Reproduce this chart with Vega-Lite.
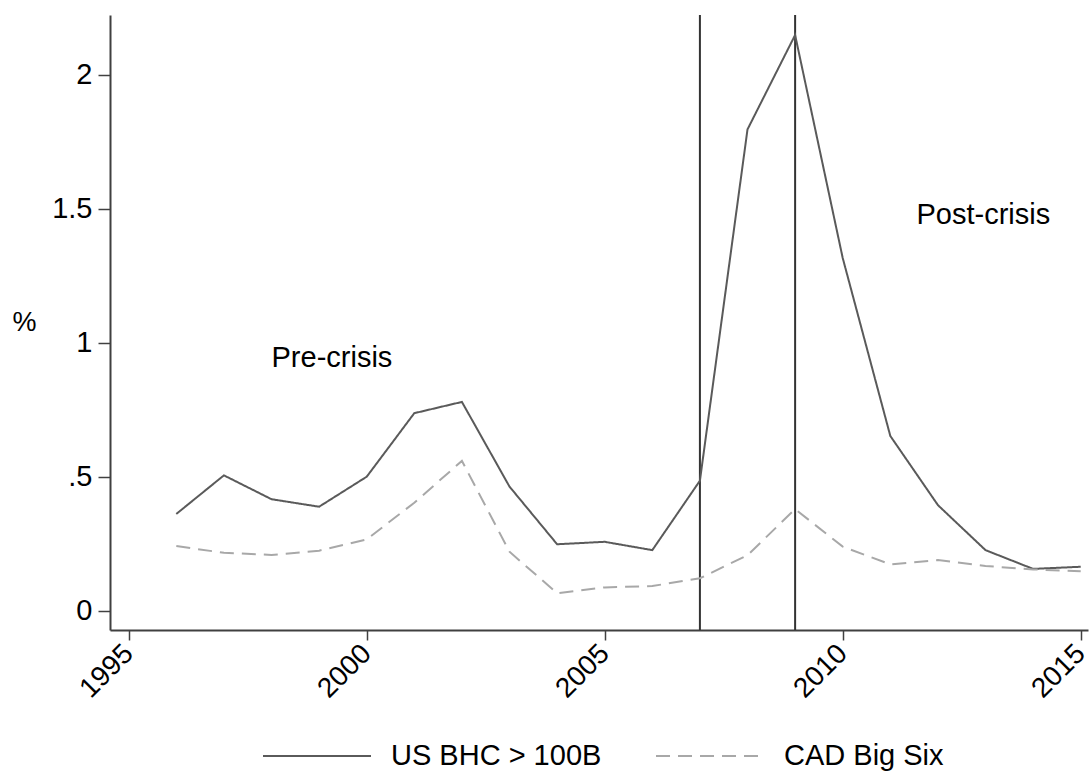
{
  "$schema": "https://vega.github.io/schema/vega-lite/v6.json",
  "width": 978,
  "height": 615,
  "autosize": {"type": "none"},
  "padding": {"left": 110, "top": 15, "right": 2, "bottom": 143},
  "background": "white",
  "config": {
    "view": {"stroke": null},
    "font": "Liberation Sans",
    "axis": {
      "grid": false,
      "domainColor": "#404040",
      "domainWidth": 2,
      "tickColor": "#404040",
      "tickWidth": 1.5,
      "labelFont": "Liberation Sans",
      "labelFontSize": 29,
      "labelColor": "black",
      "titleFont": "Liberation Sans",
      "titleFontWeight": "normal",
      "titleColor": "black"
    },
    "legend": {
      "labelFont": "Liberation Sans",
      "labelFontSize": 29,
      "labelColor": "black"
    }
  },
  "datasets": {
    "series": [
      {"year": 1996, "series": "US BHC > 100B", "value": 0.361},
      {"year": 1997, "series": "US BHC > 100B", "value": 0.505},
      {"year": 1998, "series": "US BHC > 100B", "value": 0.416},
      {"year": 1999, "series": "US BHC > 100B", "value": 0.388},
      {"year": 2000, "series": "US BHC > 100B", "value": 0.500},
      {"year": 2001, "series": "US BHC > 100B", "value": 0.737},
      {"year": 2002, "series": "US BHC > 100B", "value": 0.779},
      {"year": 2003, "series": "US BHC > 100B", "value": 0.463},
      {"year": 2004, "series": "US BHC > 100B", "value": 0.248},
      {"year": 2005, "series": "US BHC > 100B", "value": 0.257},
      {"year": 2006, "series": "US BHC > 100B", "value": 0.226},
      {"year": 2007, "series": "US BHC > 100B", "value": 0.485},
      {"year": 2008, "series": "US BHC > 100B", "value": 1.796},
      {"year": 2009, "series": "US BHC > 100B", "value": 2.148},
      {"year": 2010, "series": "US BHC > 100B", "value": 1.316},
      {"year": 2011, "series": "US BHC > 100B", "value": 0.652},
      {"year": 2012, "series": "US BHC > 100B", "value": 0.394},
      {"year": 2013, "series": "US BHC > 100B", "value": 0.226},
      {"year": 2014, "series": "US BHC > 100B", "value": 0.156},
      {"year": 2015, "series": "US BHC > 100B", "value": 0.164},
      {"year": 1996, "series": "CAD Big Six", "value": 0.241},
      {"year": 1997, "series": "CAD Big Six", "value": 0.216},
      {"year": 1998, "series": "CAD Big Six", "value": 0.208},
      {"year": 1999, "series": "CAD Big Six", "value": 0.224},
      {"year": 2000, "series": "CAD Big Six", "value": 0.266},
      {"year": 2001, "series": "CAD Big Six", "value": 0.403},
      {"year": 2002, "series": "CAD Big Six", "value": 0.559},
      {"year": 2003, "series": "CAD Big Six", "value": 0.220},
      {"year": 2004, "series": "CAD Big Six", "value": 0.065},
      {"year": 2005, "series": "CAD Big Six", "value": 0.087},
      {"year": 2006, "series": "CAD Big Six", "value": 0.092},
      {"year": 2007, "series": "CAD Big Six", "value": 0.121},
      {"year": 2008, "series": "CAD Big Six", "value": 0.207},
      {"year": 2009, "series": "CAD Big Six", "value": 0.379},
      {"year": 2010, "series": "CAD Big Six", "value": 0.239},
      {"year": 2011, "series": "CAD Big Six", "value": 0.173},
      {"year": 2012, "series": "CAD Big Six", "value": 0.189},
      {"year": 2013, "series": "CAD Big Six", "value": 0.167},
      {"year": 2014, "series": "CAD Big Six", "value": 0.154},
      {"year": 2015, "series": "CAD Big Six", "value": 0.147}
    ],
    "events": [{"year": 2007}, {"year": 2009}],
    "labels": [
      {"year": 1998.0, "value": 0.943, "label": "Pre-crisis"},
      {"year": 2011.55, "value": 1.476, "label": "Post-crisis"}
    ]
  },
  "encoding": {
    "x": {
      "field": "year",
      "type": "quantitative",
      "scale": {"domain": [1994.607, 2015.153], "nice": false, "zero": false},
      "axis": {
        "title": null,
        "values": [1995, 2000, 2005, 2010, 2015],
        "format": "d",
        "labelAngle": -45,
        "labelAlign": "right",
        "labelBaseline": "middle",
        "labelFontSize": 28,
        "tickSize": 10,
        "labelPadding": 9
      }
    },
    "y": {
      "field": "value",
      "type": "quantitative",
      "scale": {"domain": [-0.072, 2.2227], "nice": false, "zero": false},
      "axis": {
        "title": "%",
        "titleAngle": 0,
        "titleFontSize": 27,
        "titleAlign": "center",
        "titleBaseline": "middle",
        "titleX": -86,
        "titleY": 307,
        "values": [0, 0.5, 1, 1.5, 2],
        "format": "~g",
        "labelExpr": "datum.value == 0.5 ? '.5' : datum.label",
        "tickSize": 12,
        "labelPadding": 6
      }
    }
  },
  "layer": [
    {
      "data": {"name": "events"},
      "mark": {"type": "rule", "color": "#333333", "strokeWidth": 2},
      "encoding": {"x": {"field": "year", "type": "quantitative"}, "y": null}
    },
    {
      "data": {"name": "series"},
      "mark": {"type": "line", "strokeWidth": 2},
      "encoding": {
        "color": {
          "field": "series",
          "type": "nominal",
          "scale": {"domain": ["US BHC > 100B", "CAD Big Six"], "range": ["#5a5a5a", "#a8a8a8"]},
          "legend": {
            "title": null,
            "orient": "none",
            "direction": "horizontal",
            "legendX": 152,
            "legendY": 686,
            "symbolType": "stroke",
            "symbolSize": 11664,
            "symbolStrokeWidth": 2,
            "labelOffset": 19,
            "columnPadding": 50,
            "labelLimit": 400
          }
        },
        "strokeDash": {
          "field": "series",
          "type": "nominal",
          "scale": {"domain": ["US BHC > 100B", "CAD Big Six"], "range": [[1, 0], [14, 8]]},
          "legend": null
        },
        "order": {"field": "series", "type": "nominal", "sort": "ascending"}
      }
    },
    {
      "data": {"name": "labels"},
      "mark": {"type": "text", "align": "left", "baseline": "middle", "fontSize": 29, "font": "Liberation Sans", "color": "black"},
      "encoding": {"text": {"field": "label"}}
    }
  ]
}
